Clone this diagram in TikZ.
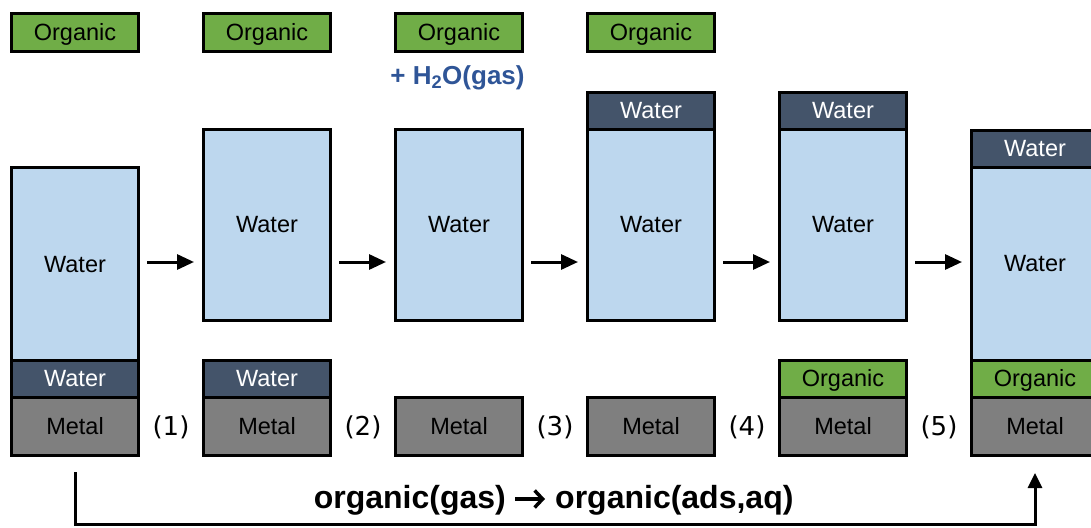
\documentclass[tikz,border=0pt]{standalone}
\usepackage{fontspec}
\setmainfont{Liberation Sans}
\newfontfamily\stepfont{DejaVu Sans}
\usetikzlibrary{arrows.meta,calc,positioning}

\definecolor{organicgreen}{HTML}{70AD47}
\definecolor{bulkblue}{HTML}{BDD7EE}
\definecolor{filmdark}{HTML}{44546A}
\definecolor{metalgray}{HTML}{7F7F7F}
\definecolor{gasblue}{HTML}{2F5597}

\tikzset{
  slab/.style={draw=black, line width=3pt, outer sep=0pt, inner sep=0pt,
    minimum width=127pt, text height=16.8pt, text depth=0pt,
    font=\fontsize{23.5}{26}\selectfont},
  organic/.style={slab, fill=organicgreen, minimum height=38pt},
  film/.style={slab, fill=filmdark, text=white, minimum height=37pt},
  bulk/.style={slab, fill=bulkblue, minimum height=191pt},
  metal/.style={slab, fill=metalgray, minimum height=58.5pt},
  flow/.style={line width=3pt, -{Triangle[length=17pt,width=15pt]}},
  returnline/.style={line width=3pt, -{Triangle[length=15pt,width=14pt]}},
  steplabel/.style={font=\stepfont\fontsize{26}{30}\selectfont},
  gas/.style={text=gasblue, font=\bfseries\fontsize{26}{28}\selectfont},
  reaction/.style={inner sep=0pt, font=\bfseries\fontsize{32}{36}\selectfont},
  yields/.style={line width=3.5pt, -{Straight Barb[length=8pt,width=17pt]}}
}

\begin{document}
\begin{tikzpicture}[x=1pt,y=-1pt]
  \useasboundingbox (0,0) rectangle (1091,527);

  % (start) water film on the metal
  \node[organic] (org1) at (75,32.5) {Organic};
  \node[bulk, minimum height=192.5pt] (bulk1) at (75,263.75) {Water};
  \node[film, below=0pt of bulk1] (film1) {Water};
  \node[metal, below=0pt of film1] (metal1) {Metal};

  % (1)
  \node[organic] (org2) at (267,32.5) {Organic};
  \node[bulk] (bulk2) at (267,224.5) {Water};
  \node[film] (film2) at (267,378.5) {Water};
  \node[metal, below=0pt of film2] (metal2) {Metal};

  % (2)
  \node[organic] (org3) at (459,32.5) {Organic};
  \node[gas] (vapour) at (457.5,78) {+ H\textsubscript{2}O(gas)};
  \node[bulk] (bulk3) at (459,224.5) {Water};
  \node[metal] (metal3) at (459,426.25) {Metal};

  % (3)
  \node[organic] (org4) at (651,32.5) {Organic};
  \node[bulk] (bulk4) at (651,224.5) {Water};
  \node[film, above=0pt of bulk4] (top4) {Water};
  \node[metal] (metal4) at (651,426.25) {Metal};

  % (4)
  \node[bulk] (bulk5) at (843,224.5) {Water};
  \node[film, above=0pt of bulk5] (top5) {Water};
  \node[organic, minimum height=37pt] (ads5) at (843,378.5) {Organic};
  \node[metal, below=0pt of ads5] (metal5) {Metal};

  % (5)
  \node[bulk, minimum height=193pt] (bulk6) at (1035,263.5) {Water};
  \node[film, above=0pt of bulk6] (top6) {Water};
  \node[organic, minimum height=37pt, below=0pt of bulk6] (ads6) {Organic};
  \node[metal, below=0pt of ads6] (metal6) {Metal};

  % steps between the columns
  \coordinate (flowline) at (0,262);
  \foreach \i/\j in {1/2,2/3,3/4,4/5,5/6} {
    \draw[flow] ($(metal\i.east |- flowline)+(8.5,0)$) -- ($(metal\j.west |- flowline)+(-9.5,0)$);
    \node[steplabel] (step\i) at ($(metal\i.east)+(32.5,1.5)$) {(\i)};
  }

  % overall path
  \draw[returnline] ($(metal1.south)+(0,16.5)$) -- ++(0,52.5) -| ($(metal6.south)+(0,17.5)$);
  \node[reaction, anchor=base east] (gasside) at (506,508) {organic(gas)};
  \node[reaction, anchor=base west] (adsside) at (555,508) {organic(ads,aq)};
  \draw[yields] ($(gasside.base east)+(9,-9)$) -- ($(adsside.base west)+(-10,-9)$);
\end{tikzpicture}
\end{document}
